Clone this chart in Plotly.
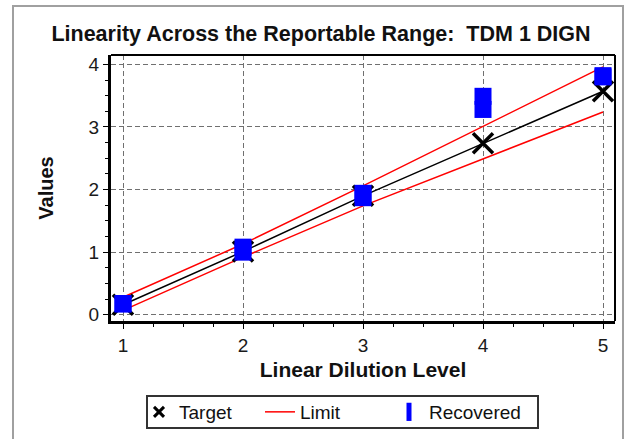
import plotly.graph_objects as go

# ---- data ----
levels = [1, 2, 3, 4, 5]
target = [0.16, 1.01, 1.90, 2.74, 3.57]
limit_upper = [0.28, 1.13, 2.06, 3.01, 3.96]
limit_lower = [0.07, 0.92, 1.74, 2.49, 3.24]
recovered_x = [1, 1, 2, 2, 3, 3, 4, 4, 5, 5]
recovered_y = [0.17, 0.18, 1.08, 1.00, 1.94, 1.87, 3.49, 3.28, 3.82, 3.80]
x_ticks = [1, 2, 3, 4, 5]
y_ticks = [0, 1, 2, 3, 4]

FONT = "Liberation Sans, Arial, sans-serif"

fig = go.Figure()

# limit lines
fig.add_trace(go.Scatter(x=levels, y=limit_upper, mode="lines",
                         line=dict(color="#ff0000", width=1.5),
                         name="Limit", showlegend=False))
fig.add_trace(go.Scatter(x=levels, y=limit_lower, mode="lines",
                         line=dict(color="#ff0000", width=1.5),
                         name="Limit", showlegend=False))
# target line + markers
fig.add_trace(go.Scatter(x=levels, y=target, mode="lines",
                         line=dict(color="black", width=1.5),
                         showlegend=False, hoverinfo="skip"))
fig.add_trace(go.Scatter(x=levels, y=target, mode="markers",
                         marker=dict(symbol="x-thin", size=20,
                                     line=dict(color="black", width=3.5)),
                         name="Target", showlegend=False))
# recovered
fig.add_trace(go.Scatter(x=recovered_x, y=recovered_y, mode="markers",
                         marker=dict(symbol="square", size=17, color="#0000ff",
                                     line=dict(width=0)),
                         name="Recovered", showlegend=False))

# legend entries (one legend each so they can be placed like the original)
fig.add_trace(go.Scatter(x=[None], y=[None], mode="markers",
                         marker=dict(symbol="x-thin", size=10,
                                     line=dict(color="black", width=3)),
                         name="Target", legend="legend"))
fig.add_trace(go.Scatter(x=[None], y=[None], mode="lines",
                         line=dict(color="#ff0000", width=1.5),
                         name="Limit", legend="legend2"))
fig.add_trace(go.Scatter(x=[None], y=[None], mode="markers",
                         marker=dict(symbol="line-ns", size=13,
                                     line=dict(color="#0000ff", width=8)),
                         name="Recovered", legend="legend3"))

axis_common = dict(
    showline=True, linecolor="black", linewidth=3,
    ticks="outside", ticklen=5, tickwidth=1, tickcolor="black",
    showgrid=True, gridcolor="#707070", gridwidth=1, griddash="5px,3px",
    zeroline=False, automargin=False,
    tickfont=dict(family=FONT, size=19, color="#1a1a1a"),
)

fig.update_xaxes(range=[0.9, 5.1], tickmode="array", tickvals=x_ticks,
                 minor=dict(dtick=0.25, tick0=1, ticks="outside", ticklen=3,
                            tickcolor="black", showgrid=False),
                 title=dict(text="<b>Linear Dilution Level</b>", standoff=8,
                            font=dict(family=FONT, size=21, color="#111111")),
                 **axis_common)
fig.update_yaxes(range=[-0.1, 4.15], tickmode="array", tickvals=y_ticks,
                 minor=dict(dtick=0.25, tick0=0, ticks="outside", ticklen=3,
                            tickcolor="black", showgrid=False),
                 title=dict(text="<b>Values</b>", standoff=30,
                            font=dict(family=FONT, size=20, color="#111111")),
                 **axis_common)

L, R, T, B = 111, 14, 55, 118
W, H = 629, 439
pw, ph = W - L - R, H - T - B

def px_x(p):
    return (p - L) / pw

def px_y(p):
    return (H - B - p) / ph

shapes = [
    # top & right plot borders
    dict(type="line", xref="paper", yref="paper", x0=0, x1=1, y0=1, y1=1,
         line=dict(color="black", width=2)),
    dict(type="line", xref="paper", yref="paper", x0=1, x1=1, y0=0, y1=1,
         line=dict(color="black", width=2)),
    # outer gray frame
    dict(type="rect", xref="paper", yref="paper",
         x0=px_x(13), x1=px_x(623), y0=px_y(445), y1=px_y(6),
         line=dict(color="#a0a0a0", width=2), layer="below"),
    # legend box
    dict(type="rect", xref="paper", yref="paper",
         x0=px_x(147), x1=px_x(538), y0=px_y(428), y1=px_y(396),
         line=dict(color="#333333", width=2), fillcolor="white", layer="below"),
]

def legend_at(left_px):
    return dict(orientation="h", x=px_x(left_px), y=px_y(393),
                xanchor="left", yanchor="top",
                borderwidth=0, bgcolor="rgba(0,0,0,0)",
                font=dict(family=FONT, size=19, color="#111111"),
                itemwidth=30)

fig.update_layout(
    width=W, height=H,
    margin=dict(l=L, r=R, t=T, b=B, autoexpand=False),
    paper_bgcolor="white", plot_bgcolor="white",
    font=dict(family=FONT, color="#111111"),
    title=dict(text="<b>Linearity Across the Reportable Range:  TDM 1 DIGN</b>",
               x=321 / W, xanchor="center", xref="container",
               y=1 - 33 / H, yanchor="middle", yref="container",
               font=dict(family=FONT, size=21.5, color="#111111")),
    showlegend=True,
    legend=legend_at(139),
    legend2=legend_at(260),
    legend3=legend_at(389),
    shapes=shapes,
)

fig.write_html("out.html",
               config={"displayModeBar": False},
               post_script="document.body.style.margin='0';"
                           "document.body.style.overflow='hidden';")
